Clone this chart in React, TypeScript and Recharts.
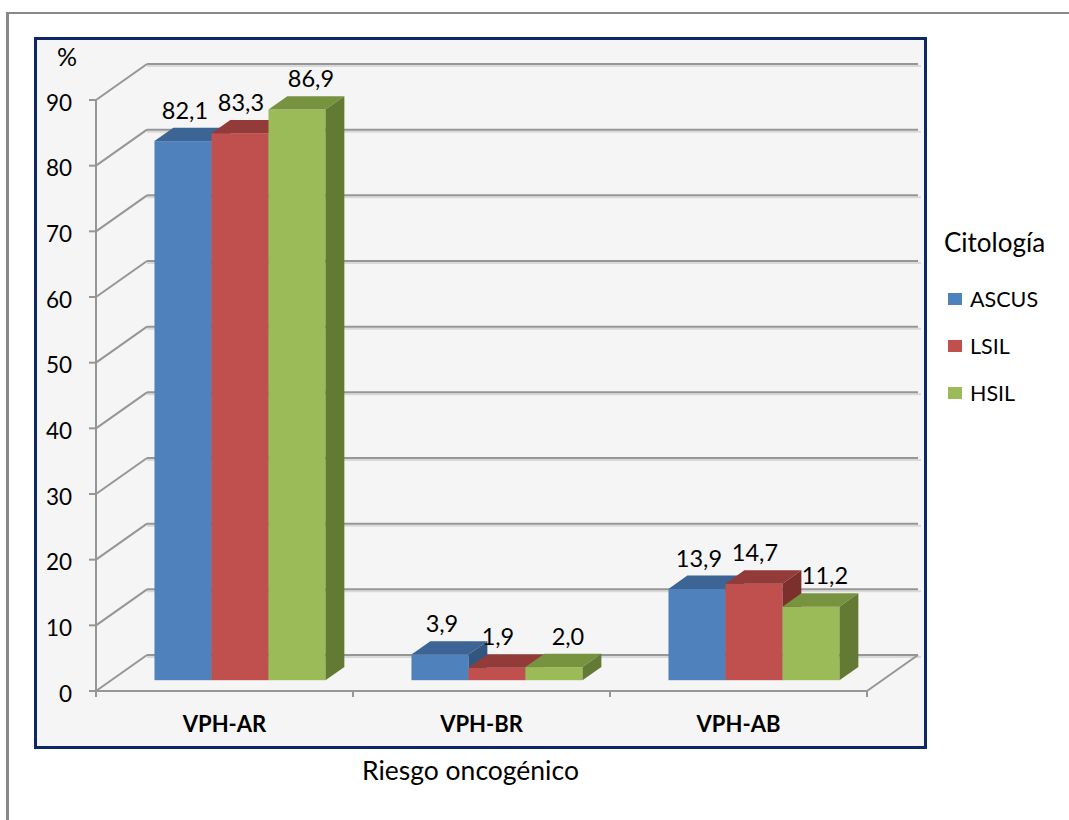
import React from 'react';
import { BarChart, Bar, XAxis, YAxis, CartesianGrid, LabelList, Label } from 'recharts';

// Categories and values (percent) per cytology group
const categories = ['VPH-AR', 'VPH-BR', 'VPH-AB'];
const ascusValues = [82.1, 3.9, 13.9];
const lsilValues = [83.3, 1.9, 14.7];
const hsilValues = [86.9, 2.0, 11.2];
const seriesNames = ['ASCUS', 'LSIL', 'HSIL'];
const yTicks = [0, 10, 20, 30, 40, 50, 60, 70, 80, 90];

const data = categories.map((category, i) => ({
  category,
  ASCUS: ascusValues[i],
  LSIL: lsilValues[i],
  HSIL: hsilValues[i],
}));

const FONT = 'Lato, "Open Sans", sans-serif';

// Oblique depth of the chart box (back wall offset)
const DEPTH_X = 51;
const DEPTH_Y = 36;
// Bars sit between these fractions of the box depth
const BAR_FRONT = 0.3;
const BAR_BACK = 0.67;

const SERIES_STYLE: Record<string, { front: string; top: string; side: string; labelDx: number }> = {
  ASCUS: { front: '#4F81BD', top: '#3C6494', side: '#335680', labelDx: 2 },
  LSIL: { front: '#C0504D', top: '#923B39', side: '#7C302E', labelDx: 1 },
  HSIL: { front: '#9BBB59', top: '#78933F', side: '#637A35', labelDx: 14 },
};

const GRID_STROKE = '#969696';

const fmt = (v: number) => v.toFixed(1).replace('.', ',');

function makeBarShape(name: string) {
  const st = SERIES_STYLE[name];
  return (props: any) => {
    const { x, y, width, height } = props;
    if (width == null || height == null) return <g />;
    const ox = BAR_FRONT * DEPTH_X;
    const oy = BAR_FRONT * DEPTH_Y;
    const dx = (BAR_BACK - BAR_FRONT) * DEPTH_X;
    const dy = (BAR_BACK - BAR_FRONT) * DEPTH_Y;
    const fx = x + ox;
    const top = y - oy;
    const bot = y + height - oy;
    const r = fx + width;
    return (
      <g>
        <rect x={fx} y={top} width={width} height={Math.max(0, bot - top)} fill={st.front} />
        <polygon
          points={`${fx},${top} ${r},${top} ${r + dx},${top - dy} ${fx + dx},${top - dy}`}
          fill={st.top}
        />
        <polygon
          points={`${r},${top} ${r + dx},${top - dy} ${r + dx},${bot - dy} ${r},${bot}`}
          fill={st.side}
        />
      </g>
    );
  };
}

function makeValueLabel(name: string) {
  const st = SERIES_STYLE[name];
  return (props: any) => {
    const { x, y, width, value } = props;
    if (x == null || value == null) return null;
    const ox = BAR_FRONT * DEPTH_X;
    const oy = BAR_FRONT * DEPTH_Y;
    const dy = (BAR_BACK - BAR_FRONT) * DEPTH_Y;
    const cx = x + ox + width / 2 + st.labelDx;
    const baseline = y - oy - dy - 9;
    return (
      <text x={cx} y={baseline} textAnchor="middle" fontFamily={FONT} fontSize={23.5} fill="#000">
        {fmt(Number(value))}
      </text>
    );
  };
}

// Back wall gridline with its diagonal connection to the front axis
const renderWallLine = (p: any) => {
  const { x1, y1, x2, key } = p;
  const bx1 = x1 + DEPTH_X;
  const bx2 = x2 + DEPTH_X;
  const by = y1 - DEPTH_Y;
  const isFloor = p.y != null && p.height != null && Math.abs(y1 - (p.y + p.height)) < 1;
  return (
    <g key={key}>
      <line x1={bx1} y1={by + 2} x2={bx2 + 3} y2={by + 2} stroke="#d9d9d9" strokeWidth={2} />
      <line x1={bx1} y1={by} x2={bx2} y2={by} stroke={GRID_STROKE} strokeWidth={2} />
      <line x1={x1} y1={y1} x2={bx1} y2={by} stroke={GRID_STROKE} strokeWidth={2} />
      {isFloor && <line x1={x2} y1={y1} x2={bx2} y2={by} stroke={GRID_STROKE} strokeWidth={2} />}
    </g>
  );
};

const ValueTick = (p: any) => {
  const { x, y, payload } = p;
  return (
    <g>
      <line x1={x - 7} y1={y} x2={x} y2={y} stroke={GRID_STROKE} strokeWidth={2} />
      <text
        x={x - 24}
        y={y + 2}
        textAnchor="end"
        dominantBaseline="central"
        fontFamily={FONT}
        fontSize={22.5}
        fill="#000"
      >
        {payload.value}
      </text>
    </g>
  );
};

const CategoryTick = (p: any) => {
  const { x, y, payload, width, visibleTicksCount, index } = p;
  const band = width && visibleTicksCount ? width / visibleTicksCount : 257;
  const last = index === visibleTicksCount - 1;
  return (
    <g>
      <line x1={x - band / 2} y1={y} x2={x - band / 2} y2={y + 6} stroke={GRID_STROKE} strokeWidth={2} />
      {last && (
        <line x1={x + band / 2} y1={y} x2={x + band / 2} y2={y + 6} stroke={GRID_STROKE} strokeWidth={2} />
      )}
      <text x={x} y={y + 41} textAnchor="middle" fontFamily={FONT} fontWeight={700} fontSize={22} fill="#000">
        {payload.value}
      </text>
    </g>
  );
};

const PercentLabel = (p: any) => {
  const vb = p.viewBox || { x: 0, y: 100, width: 96 };
  return (
    <text
      x={vb.x + vb.width - 29}
      y={vb.y - 44}
      textAnchor="middle"
      dominantBaseline="central"
      fontFamily={FONT}
      fontSize={25}
      fill="#000"
    >
      %
    </text>
  );
};

const AxisTitle = (p: any) => {
  const vb = p.viewBox || { x: 96, y: 691, width: 771 };
  return (
    <text x={vb.x + vb.width / 2 - 11} y={vb.y + 89} textAnchor="middle" fontFamily={FONT} fontSize={26.5} fill="#000">
      Riesgo oncogénico
    </text>
  );
};

export default function App() {
  return (
    <div style={{ position: 'absolute', left: 0, top: 0, width: 1069, height: 820, overflow: 'hidden', background: '#fff' }}>
      {/* outer chart frame */}
      <div
        style={{
          position: 'absolute',
          left: 6,
          top: 12,
          width: 1200,
          height: 1000,
          borderLeft: '3px solid #888',
          borderTop: '2px solid #888',
          boxSizing: 'border-box',
        }}
      />
      {/* plot area frame */}
      <div
        style={{
          position: 'absolute',
          left: 34,
          top: 37,
          width: 893,
          height: 712,
          border: '3px solid #0D2766',
          background: '#F5F5F5',
          boxSizing: 'border-box',
        }}
      />
      <div style={{ position: 'absolute', left: 0, top: 0 }}>
        <BarChart
          width={1069}
          height={820}
          data={data}
          margin={{ top: 100, right: 202, left: 0, bottom: 84 }}
          barCategoryGap="16.8%"
          barGap={0}
        >
          <CartesianGrid horizontal={renderWallLine} vertical={false} />
          <XAxis
            dataKey="category"
            height={45}
            tickSize={0}
            tickMargin={0}
            tickLine={false}
            axisLine={{ stroke: GRID_STROKE, strokeWidth: 2 }}
            tick={<CategoryTick />}
            interval={0}
          >
            <Label content={<AxisTitle />} />
          </XAxis>
          <YAxis
            type="number"
            domain={[0, 90]}
            ticks={yTicks}
            width={96}
            tickSize={0}
            tickMargin={0}
            tickLine={false}
            axisLine={{ stroke: GRID_STROKE, strokeWidth: 2 }}
            tick={<ValueTick />}
            interval={0}
          >
            <Label content={<PercentLabel />} />
          </YAxis>
          {seriesNames.map((name) => (
            <Bar
              key={name}
              dataKey={name}
              fill={SERIES_STYLE[name].front}
              shape={makeBarShape(name)}
              isAnimationActive={false}
            >
              <LabelList dataKey={name} content={makeValueLabel(name)} />
            </Bar>
          ))}
        </BarChart>
      </div>
      {/* legend */}
      <svg style={{ position: 'absolute', left: 930, top: 220 }} width={139} height={200}>
        <text x={14} y={32} fontFamily={FONT} fontSize={26} fill="#000">
          Citología
        </text>
        {seriesNames.map((name, i) => (
          <g key={name}>
            <rect x={18} y={73 + i * 47} width={14} height={12} fill={SERIES_STYLE[name].front} />
            <text x={40} y={79 + i * 47} dominantBaseline="central" fontFamily={FONT} fontSize={21.5} fill="#000">
              {name}
            </text>
          </g>
        ))}
      </svg>
    </div>
  );
}
